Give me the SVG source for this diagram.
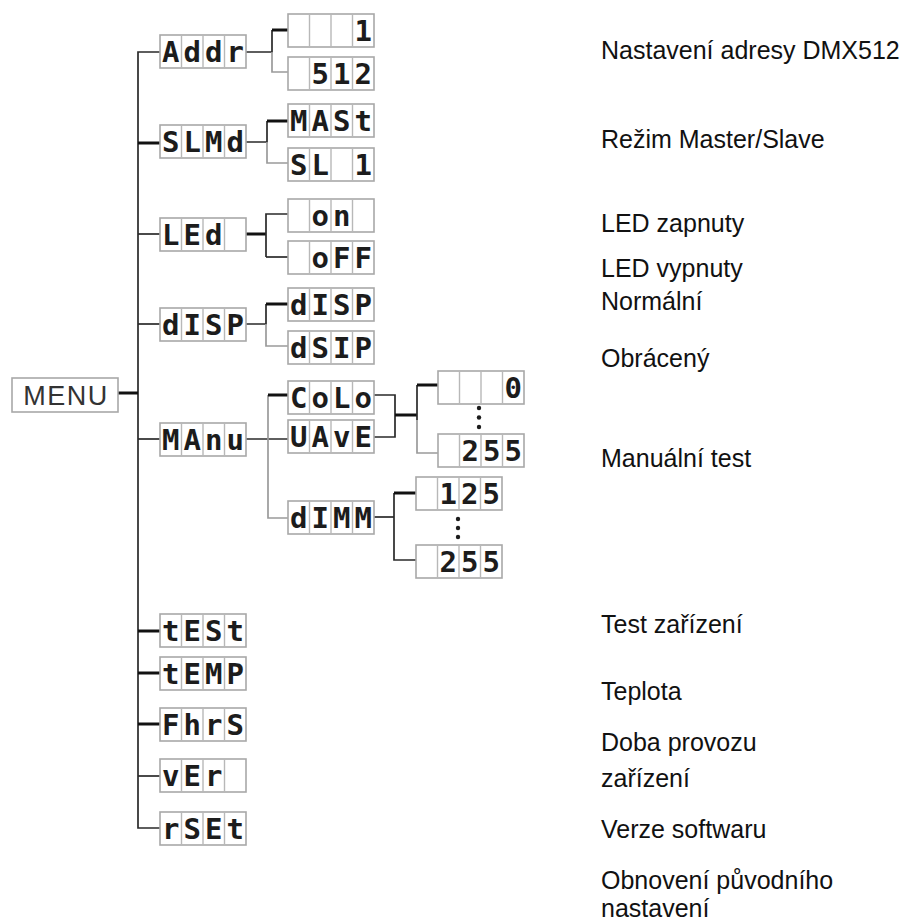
<svg xmlns="http://www.w3.org/2000/svg" xmlns:xlink="http://www.w3.org/1999/xlink" width="901" height="924" viewBox="0 0 901 924">
<style>
.fr{fill:#fff;stroke:#a8a8a8;stroke-width:1.6}
.dv{stroke:#b8b8b8;stroke-width:1.4}
.seg{font-family:"DejaVu Sans Mono","Liberation Mono",monospace;font-weight:bold;font-size:29px;fill:#1c1c1c;text-anchor:middle}
.lbl{font-family:"Liberation Sans",Arial,sans-serif;font-size:25px;fill:#111}
.menu{font-family:"Liberation Sans",Arial,sans-serif;font-size:27px;fill:#333;letter-spacing:1.5px;text-anchor:middle}
.c{fill:none;stroke:#2a2a2a;stroke-width:1.7}
.k{fill:none;stroke:#111;stroke-width:3}
.g{fill:none;stroke:#9a9a9a;stroke-width:1.7}
.dot{fill:#1c1c1c}
</style>
<defs>
<g id="frame">
<rect class="fr" x="0" y="0" width="86" height="33"/>
<line class="dv" x1="21.5" y1="0" x2="21.5" y2="33"/>
<line class="dv" x1="43" y1="0" x2="43" y2="33"/>
<line class="dv" x1="64.5" y1="0" x2="64.5" y2="33"/>
</g>
</defs>

<g id="connectors">
<path class="c" d="M160 52H138V828H160"/>
<path class="k" d="M118 393H138"/>
<path class="k" d="M138 143H160"/>
<path class="c" d="M138 234H160"/>
<path class="c" d="M138 324H160"/>
<path class="c" d="M138 439H160"/>
<path class="k" d="M138 631H160"/>
<path class="k" d="M138 673H160"/>
<path class="k" d="M138 724H160"/>
<path class="c" d="M138 776H160"/>
<path class="c" d="M246 52H272V30"/>
<path class="k" d="M272 30H288"/>
<path class="g" d="M272 52V72H288"/>
<path class="c" d="M246 142H267V121"/>
<path class="k" d="M267 121H288"/>
<path class="g" d="M267 142V163H288"/>
<path class="k" d="M246 234H266"/>
<path class="c" d="M288 214H266V257"/>
<path class="c" d="M266 257H288"/>
<path class="c" d="M246 324H266V304"/>
<path class="k" d="M266 304H288"/>
<path class="g" d="M266 324V346H288"/>
<path class="c" d="M246 439H288"/>
<path class="g" d="M268 395V518H288"/>
<path class="k" d="M268 395H288"/>
<path class="c" d="M373 395H395V437H373"/>
<path class="k" d="M395 415H417"/>
<path class="c" d="M417 385V420"/>
<path class="g" d="M417 420V453H438"/>
<path class="k" d="M417 385H438"/>
<path class="c" d="M373 517H394"/>
<path class="c" d="M394 493V560H416"/>
<path class="k" d="M394 493H416"/>
</g>

<g id="menu">
<rect class="fr" x="12" y="378" width="106" height="34"/>
<text class="menu" x="66" y="405">MENU</text>
</g>

<g id="addr"><use xlink:href="#frame" x="160" y="35"/>
<text class="seg" y="62"><tspan x="170.75">A</tspan><tspan x="192.25">d</tspan><tspan x="213.75">d</tspan><tspan x="235.25">r</tspan></text></g>
<g id="slmd"><use xlink:href="#frame" x="160" y="125"/>
<text class="seg" y="152"><tspan x="170.75">S</tspan><tspan x="192.25">L</tspan><tspan x="213.75">M</tspan><tspan x="235.25">d</tspan></text></g>
<g id="led"><use xlink:href="#frame" x="160" y="218"/>
<text class="seg" y="245"><tspan x="170.75">L</tspan><tspan x="192.25">E</tspan><tspan x="213.75">d</tspan></text></g>
<g id="disp"><use xlink:href="#frame" x="160" y="308"/>
<text class="seg" y="335"><tspan x="170.75">d</tspan><tspan x="192.25">I</tspan><tspan x="213.75">S</tspan><tspan x="235.25">P</tspan></text></g>
<g id="manu"><use xlink:href="#frame" x="160" y="423"/>
<text class="seg" y="450"><tspan x="170.75">M</tspan><tspan x="192.25">A</tspan><tspan x="213.75">n</tspan><tspan x="235.25">u</tspan></text></g>
<g id="test"><use xlink:href="#frame" x="160" y="614"/>
<text class="seg" y="641"><tspan x="170.75">t</tspan><tspan x="192.25">E</tspan><tspan x="213.75">S</tspan><tspan x="235.25">t</tspan></text></g>
<g id="temp"><use xlink:href="#frame" x="160" y="657"/>
<text class="seg" y="684"><tspan x="170.75">t</tspan><tspan x="192.25">E</tspan><tspan x="213.75">M</tspan><tspan x="235.25">P</tspan></text></g>
<g id="fhrs"><use xlink:href="#frame" x="160" y="708"/>
<text class="seg" y="735"><tspan x="170.75">F</tspan><tspan x="192.25">h</tspan><tspan x="213.75">r</tspan><tspan x="235.25">S</tspan></text></g>
<g id="ver"><use xlink:href="#frame" x="160" y="759"/>
<text class="seg" y="786"><tspan x="170.75">v</tspan><tspan x="192.25">E</tspan><tspan x="213.75">r</tspan></text></g>
<g id="rset"><use xlink:href="#frame" x="160" y="812"/>
<text class="seg" y="839"><tspan x="170.75">r</tspan><tspan x="192.25">S</tspan><tspan x="213.75">E</tspan><tspan x="235.25">t</tspan></text></g>

<g id="addr1"><use xlink:href="#frame" x="288" y="14"/>
<text class="seg" y="41"><tspan x="363.25">1</tspan></text></g>
<g id="addr512"><use xlink:href="#frame" x="288" y="57"/>
<text class="seg" y="84"><tspan x="320.25">5</tspan><tspan x="341.75">1</tspan><tspan x="363.25">2</tspan></text></g>
<g id="mast"><use xlink:href="#frame" x="288" y="104"/>
<text class="seg" y="131"><tspan x="298.75">M</tspan><tspan x="320.25">A</tspan><tspan x="341.75">S</tspan><tspan x="363.25">t</tspan></text></g>
<g id="sl1"><use xlink:href="#frame" x="288" y="148"/>
<text class="seg" y="175"><tspan x="298.75">S</tspan><tspan x="320.25">L</tspan><tspan x="363.25">1</tspan></text></g>
<g id="on"><use xlink:href="#frame" x="288" y="199"/>
<text class="seg" y="226"><tspan x="320.25">o</tspan><tspan x="341.75">n</tspan></text></g>
<g id="off"><use xlink:href="#frame" x="288" y="241"/>
<text class="seg" y="268"><tspan x="320.25">o</tspan><tspan x="341.75">F</tspan><tspan x="363.25">F</tspan></text></g>
<g id="disp1"><use xlink:href="#frame" x="288" y="288"/>
<text class="seg" y="315"><tspan x="298.75">d</tspan><tspan x="320.25">I</tspan><tspan x="341.75">S</tspan><tspan x="363.25">P</tspan></text></g>
<g id="dsip"><use xlink:href="#frame" x="288" y="331"/>
<text class="seg" y="358"><tspan x="298.75">d</tspan><tspan x="320.25">S</tspan><tspan x="341.75">I</tspan><tspan x="363.25">P</tspan></text></g>
<g id="colo"><use xlink:href="#frame" x="288" y="381"/>
<text class="seg" y="408"><tspan x="298.75">C</tspan><tspan x="320.25">o</tspan><tspan x="341.75">L</tspan><tspan x="363.25">o</tspan></text></g>
<g id="uave"><use xlink:href="#frame" x="288" y="420"/>
<text class="seg" y="447"><tspan x="298.75">U</tspan><tspan x="320.25">A</tspan><tspan x="341.75">v</tspan><tspan x="363.25">E</tspan></text></g>
<g id="dimm"><use xlink:href="#frame" x="288" y="501"/>
<text class="seg" y="528"><tspan x="298.75">d</tspan><tspan x="320.25">I</tspan><tspan x="341.75">M</tspan><tspan x="363.25">M</tspan></text></g>

<g id="v0"><use xlink:href="#frame" x="438" y="371"/>
<text class="seg" y="398"><tspan x="513.25">0</tspan></text></g>
<g id="v255a"><use xlink:href="#frame" x="438" y="434"/>
<text class="seg" y="461"><tspan x="470.25">2</tspan><tspan x="491.75">5</tspan><tspan x="513.25">5</tspan></text></g>
<g id="dotsa"><circle class="dot" cx="479" cy="408" r="2.2"/><circle class="dot" cx="479" cy="417.5" r="2.2"/><circle class="dot" cx="479" cy="427" r="2.2"/></g>
<g id="v125"><use xlink:href="#frame" x="416" y="477"/>
<text class="seg" y="504"><tspan x="448.25">1</tspan><tspan x="469.75">2</tspan><tspan x="491.25">5</tspan></text></g>
<g id="dotsb"><circle class="dot" cx="458" cy="519" r="2.2"/><circle class="dot" cx="458" cy="528" r="2.2"/><circle class="dot" cx="458" cy="537" r="2.2"/></g>
<g id="v255b"><use xlink:href="#frame" x="416" y="545"/>
<text class="seg" y="572"><tspan x="448.25">2</tspan><tspan x="469.75">5</tspan><tspan x="491.25">5</tspan></text></g>

<g id="labels">
<text class="lbl" x="601" y="59">Nastavení adresy DMX512</text>
<text class="lbl" x="601" y="148">Režim Master/Slave</text>
<text class="lbl" x="601" y="232">LED zapnuty</text>
<text class="lbl" x="601" y="277">LED vypnuty</text>
<text class="lbl" x="601" y="310">Normální</text>
<text class="lbl" x="601" y="367">Obrácený</text>
<text class="lbl" x="601" y="467">Manuální test</text>
<text class="lbl" x="601" y="633">Test zařízení</text>
<text class="lbl" x="601" y="700">Teplota</text>
<text class="lbl" x="601" y="751">Doba provozu</text>
<text class="lbl" x="601" y="787">zařízení</text>
<text class="lbl" x="601" y="838">Verze softwaru</text>
<text class="lbl" x="601" y="889">Obnovení původního</text>
<text class="lbl" x="601" y="917">nastavení</text>
</g>
</svg>
